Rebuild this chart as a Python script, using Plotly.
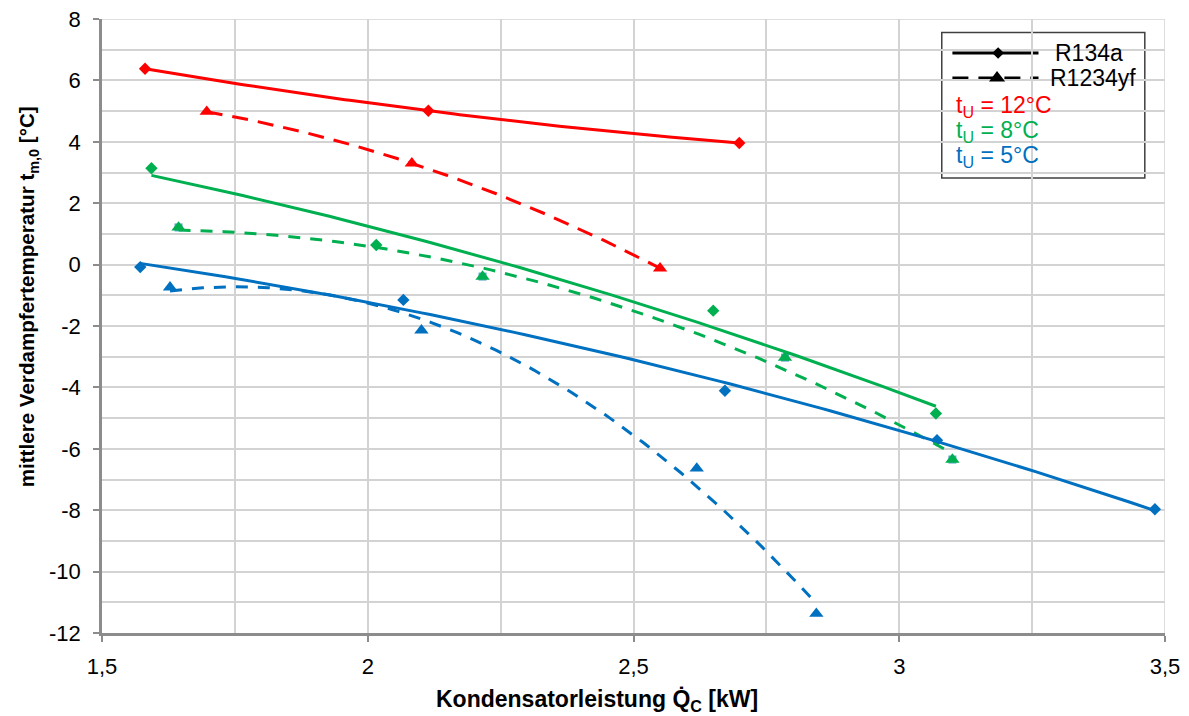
import numpy as np
import plotly.graph_objects as go

# ---------------- data ----------------
r134a_12_x = [1.581, 2.114, 2.699]
r134a_12_y = [6.38, 5.01, 3.96]
r1234yf_12_x = [1.697, 2.083, 2.550]
r1234yf_12_y = [4.98, 3.30, -0.12]

r134a_8_x = [1.593, 2.016, 2.650, 3.069]
r134a_8_y = [3.14, 0.64, -1.50, -4.85]
r1234yf_8_x = [1.644, 2.216, 2.785, 3.100]
r1234yf_8_y = [1.21, -0.39, -3.03, -6.35]

r134a_5_x = [1.572, 2.067, 2.672, 3.071, 3.481]
r134a_5_y = [-0.08, -1.15, -4.11, -5.72, -7.97]
r1234yf_5_x = [1.628, 2.101, 2.619, 2.844]
r1234yf_5_y = [-0.74, -2.14, -6.64, -11.37]

x_tickvals = [1.5, 2.0, 2.5, 3.0, 3.5]
x_ticktext = ["1,5", "2", "2,5", "3", "3,5"]
x_minor = [1.75, 2.25, 2.75, 3.25]
y_tickvals = [-12, -10, -8, -6, -4, -2, 0, 2, 4, 6, 8]
y_ticktext = ["-12", "-10", "-8", "-6", "-4", "-2", "0", "2", "4", "6", "8"]
y_minor = [-11, -9, -7, -5, -3, -1, 1, 3, 5, 7]

RED = "#FF0000"
GREEN = "#00B050"
BLUE = "#0070C0"
FONT = "Liberation Sans, Arial, sans-serif"

fig = go.Figure()


def trend(xs, ys):
    c = np.polyfit(xs, ys, 2)
    xx = np.linspace(min(xs), max(xs), 120)
    return xx, np.polyval(c, xx)


series = [
    (r134a_12_x, r134a_12_y, RED, "diamond", "solid"),
    (r1234yf_12_x, r1234yf_12_y, RED, "triangle-up", "16px,10px"),
    (r134a_8_x, r134a_8_y, GREEN, "diamond", "solid"),
    (r1234yf_8_x, r1234yf_8_y, GREEN, "triangle-up", "12px,10px"),
    (r134a_5_x, r134a_5_y, BLUE, "diamond", "solid"),
    (r1234yf_5_x, r1234yf_5_y, BLUE, "triangle-up", "12px,10px"),
]

# light-blue squares peeking out behind the green triangles (as in the reference)
fig.add_trace(go.Scatter(x=r1234yf_8_x, y=r1234yf_8_y, mode="markers",
                         marker=dict(symbol="square", size=8, color="#5BA3CF"),
                         showlegend=False, hoverinfo="skip"))

for xs, ys, col, sym, dash in series:
    size = 9.5 if sym == "diamond" else 12.5
    fig.add_trace(go.Scatter(x=xs, y=ys, mode="markers",
                             marker=dict(symbol=sym, size=size, color=col, line=dict(width=0)),
                             showlegend=False))
for xs, ys, col, sym, dash in series:
    tx, ty = trend(xs, ys)
    fig.add_trace(go.Scatter(x=tx, y=ty, mode="lines",
                             line=dict(color=col, width=3, dash=dash),
                             showlegend=False, hoverinfo="skip"))

GRID = "#D3D3D3"
AXIS = "#8C8C8C"

# ---------------- manual legend + plot frame grid edges ----------------
shapes = [
    dict(type="line", xref="x", yref="paper", x0=3.5, x1=3.5, y0=0, y1=1,
         line=dict(color=GRID, width=1.5), layer="below"),
    dict(type="line", xref="paper", yref="y", x0=0, x1=1, y0=8, y1=8,
         line=dict(color=GRID, width=1.5), layer="below"),
    dict(type="rect", xref="paper", yref="paper", x0=0.790, x1=0.981, y0=0.741, y1=0.978,
         line=dict(color="#404040", width=1.5), fillcolor="white", layer="between"),
    dict(type="line", xref="paper", yref="paper", x0=0.800, x1=0.881, y0=0.9446, y1=0.9446,
         line=dict(color="black", width=3), layer="between"),
    dict(type="line", xref="paper", yref="paper", x0=0.800, x1=0.881, y0=0.9038, y1=0.9038,
         line=dict(color="black", width=3, dash="16px,10px"), layer="between"),
]
fig.add_trace(go.Scatter(x=[0.843], y=[0.9446], xaxis="x2", yaxis="y2", mode="markers",
                         marker=dict(symbol="diamond", size=9, color="black"),
                         showlegend=False, hoverinfo="skip"))
fig.add_trace(go.Scatter(x=[0.842], y=[0.9038], xaxis="x2", yaxis="y2", mode="markers",
                         marker=dict(symbol="triangle-up", size=14, color="black"),
                         showlegend=False, hoverinfo="skip"))

LEG = 23
ann = []
ann.append(dict(xref="paper", yref="paper", x=0.8947, y=0.9446, text="R134a", showarrow=False,
                xanchor="left", yanchor="middle", font=dict(family=FONT, size=LEG, color="black")))
ann.append(dict(xref="paper", yref="paper", x=0.8901, y=0.9038, text="R1234yf", showarrow=False,
                xanchor="left", yanchor="middle", font=dict(family=FONT, size=LEG, color="black")))
for txt, yy, col in [("t<sub>U</sub> = 12°C", 0.8575, RED),
                     ("t<sub>U</sub> = 8°C", 0.8168, GREEN),
                     ("t<sub>U</sub> = 5°C", 0.7760, BLUE)]:
    ann.append(dict(xref="paper", yref="paper", x=0.8016, y=yy, text=txt, showarrow=False,
                    xanchor="left", yanchor="middle", font=dict(family=FONT, size=LEG, color=col)))

# axis titles (placed as in the reference, slightly off-centre)
ann.append(dict(xref="paper", yref="paper", x=0.4657, y=-0.1097,
                text="<b>Kondensatorleistung Q̇<sub>C</sub> [kW]</b>", showarrow=False,
                xanchor="center", yanchor="middle", font=dict(family=FONT, size=23, color="black")))
ann.append(dict(xref="paper", yref="paper", x=-0.0693, y=0.5473, textangle=-90,
                text="<b>mittlere Verdampfertemperatur t<sub>m,0</sub> [°C]</b>", showarrow=False,
                xanchor="center", yanchor="middle", font=dict(family=FONT, size=20.6, color="black")))

fig.update_layout(
    width=1189, height=716,
    margin=dict(l=102, r=24, t=19, b=83, autoexpand=False),
    paper_bgcolor="white", plot_bgcolor="white",
    font=dict(family=FONT, size=22, color="black"),
    shapes=shapes, annotations=ann,
    xaxis=dict(range=[1.5, 3.5], tickmode="array", tickvals=x_tickvals, ticktext=x_ticktext,
               showgrid=True, gridcolor=GRID, gridwidth=1.5,
               minor=dict(tickmode="array", tickvals=x_minor, showgrid=True, gridcolor=GRID,
                          gridwidth=1.5, ticks=""),
               showline=True, linecolor=AXIS, linewidth=2.5,
               ticks="outside", ticklen=6, tickcolor=AXIS, tickwidth=1.5,
               ticklabelstandoff=6, zeroline=False, automargin=False,
               tickfont=dict(family=FONT, size=22)),
    yaxis=dict(range=[-12, 8], tickmode="array", tickvals=y_tickvals, ticktext=y_ticktext,
               showgrid=True, gridcolor=GRID, gridwidth=1.5,
               minor=dict(tickmode="array", tickvals=y_minor, showgrid=True, gridcolor=GRID,
                          gridwidth=1.5, ticks=""),
               showline=True, linecolor=AXIS, linewidth=2.5,
               ticks="outside", ticklen=6, tickcolor=AXIS, tickwidth=1.5,
               ticklabelstandoff=8, zeroline=False, automargin=False,
               tickfont=dict(family=FONT, size=22)),
    xaxis2=dict(overlaying="x", range=[0, 1], visible=False, fixedrange=True),
    yaxis2=dict(overlaying="y", range=[0, 1], visible=False, fixedrange=True),
)

fig.write_html("out.html", config={"displayModeBar": False},
               post_script="document.body.style.margin='0';")
